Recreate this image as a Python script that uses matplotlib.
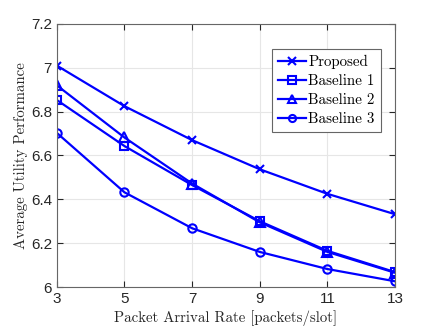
import numpy as np
import matplotlib.pyplot as plt

rates = [3, 5, 7, 9, 11, 13]
proposed = [7.01, 6.825, 6.67, 6.537, 6.425, 6.332]
baseline1 = [6.853, 6.643, 6.465, 6.30, 6.165, 6.068]
baseline2 = [6.92, 6.682, 6.472, 6.295, 6.16, 6.065]
baseline3 = [6.703, 6.432, 6.268, 6.16, 6.082, 6.026]

plt.rcParams['axes.formatter.use_mathtext'] = False

fig = plt.figure(figsize=(4.37, 3.28), dpi=100)
ax = fig.add_axes([0.130, 0.125, 0.774, 0.802])

blue = '#0000ff'
ax.plot(rates, proposed, color=blue, lw=1.6, marker='x', ms=6, mew=1.5, label='Proposed')
ax.plot(rates, baseline1, color=blue, lw=1.6, marker='s', ms=6, mew=1.5, mfc='none', label='Baseline 1')
ax.plot(rates, baseline2, color=blue, lw=1.6, marker='^', ms=7, mew=1.5, mfc='none', label='Baseline 2')
ax.plot(rates, baseline3, color=blue, lw=1.6, marker='o', ms=6, mew=1.5, mfc='none', label='Baseline 3')

ax.set_xlim(3, 13)
ax.set_ylim(6, 7.2)
ax.set_xticks(rates)
yt = [6, 6.2, 6.4, 6.6, 6.8, 7, 7.2]
ax.set_yticks(yt)
ax.set_yticklabels(['6', '6.2', '6.4', '6.6', '6.8', '7', '7.2'])
ax.grid(True, color='#e6e6e6', lw=0.8)
ax.set_axisbelow(True)
ax.tick_params(direction='in', top=True, right=True, labelsize=11, colors='#262626', length=4)
for tl in ax.get_xticklabels() + ax.get_yticklabels():
    tl.set_fontfamily('Liberation Sans')
for s in ax.spines.values():
    s.set_color('#666666')
    s.set_linewidth(0.8)

ax.set_xlabel('Packet Arrival Rate [packets/slot]', family='cmr10', fontsize=10.7, color='#262626', labelpad=3)
ax.set_ylabel('Average Utility Performance', family='cmr10', fontsize=10.7, color='#262626', labelpad=2)

leg = ax.legend(loc='upper right', bbox_to_anchor=(0.958, 0.905), prop={'family': 'cmr10', 'size': 10.8},
                fancybox=False, framealpha=1, edgecolor='#666666', handlelength=1.85,
                handletextpad=0.15, borderpad=0.4, labelspacing=0.35, borderaxespad=0,
                markerscale=0.85)
leg.get_frame().set_linewidth(0.8)

fig.savefig('out.png', dpi=100)
